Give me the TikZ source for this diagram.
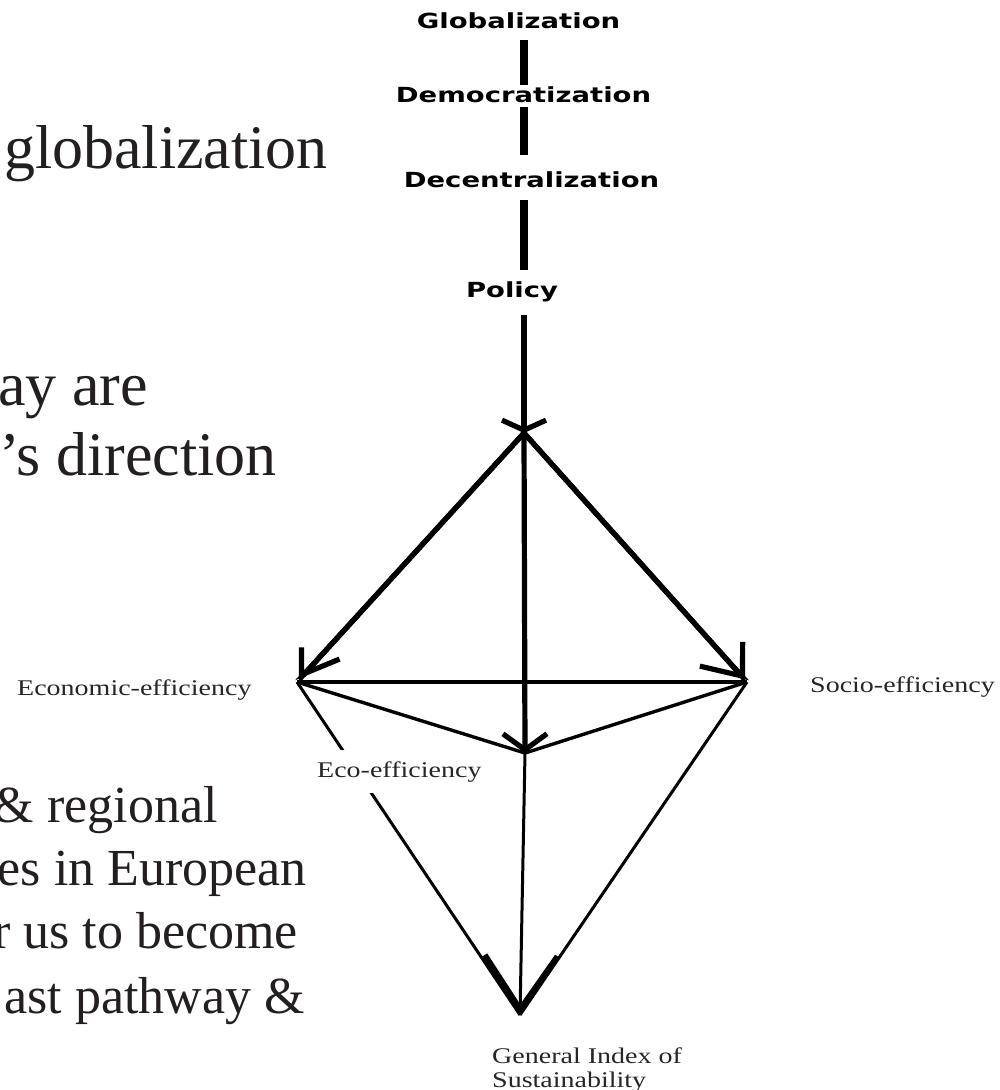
\documentclass[tikz,border=0pt]{standalone}
\usepackage{fontspec}
\setmainfont{Liberation Serif}
\newfontfamily\boldsans{DejaVu Sans}
\usetikzlibrary{arrows.meta}
\definecolor{ink}{HTML}{231F20}
\definecolor{lblgray}{HTML}{262626}
\newcommand{\wideB}[1]{\scalebox{1.32}[1]{#1}}
\newcommand{\wideL}[1]{\scalebox{1.25}[1]{#1}}
\begin{document}
\begin{tikzpicture}[x=1pt,y=-1pt,
  topword/.style={font=\boldsans\bfseries\fontsize{20.8}{21}\selectfont, inner sep=0pt, anchor=base},
  bigtop/.style={font=\fontsize{62}{70}\selectfont, text=ink, inner sep=0pt, anchor=base east},
  bigbot/.style={font=\fontsize{52}{63}\selectfont, text=ink, inner sep=0pt, anchor=base east},
  lbl/.style={font=\fontsize{22.4}{24}\selectfont, text=lblgray, inner sep=0pt, anchor=base west},
  bar/.style={line width=7.5pt},
  heavy/.style={line width=5.2pt},
  light/.style={line width=3.4pt},
  slim/.style={line width=3pt},
]
\fill[white] (0,0) rectangle (999,1090);
\clip (0,0) rectangle (999,1090);

% vertices
\coordinate (A) at (524,433);
\coordinate (L) at (297,682);
\coordinate (R) at (747,682);
\coordinate (C) at (525,753);
\coordinate (B) at (520,1015);

% top chain labels
\node[topword] (glob) at (518.5,28) {\wideB{Globalization}};
\node[topword] (demo) at (523.5,102) {\wideB{Democratization}};
\node[topword] (dec) at (531.5,187) {\wideB{Decentralization}};
\node[topword] (pol) at (512,297) {\wideB{Policy}};

% chain bars
\draw[bar, shorten <=12pt, shorten >=17pt] (A |- glob.base) -- (A |- demo.base);
\draw[bar, shorten <=5pt, shorten >=32pt] (A |- demo.base) -- (A |- dec.base);
\draw[bar, shorten <=13pt, shorten >=27pt] (A |- dec.base) -- (A |- pol.base);
\draw[heavy, shorten <=18pt, -{Straight Barb[length=10pt,width=44pt]}] (A |- pol.base) -- (A);

% from apex
\draw[heavy, -{Straight Barb[length=16pt,width=44pt]}] (A) -- (C);
\draw[heavy, -{Straight Barb[right,length=22pt,width=40pt]}] (A) -- (L);
\draw[heavy, -{Straight Barb[left,length=34pt,width=32pt]}] (A) -- (L);
\draw[heavy, -{Straight Barb[left,length=26pt,width=47pt]}] (A) -- (R);
\draw[heavy, -{Straight Barb[right,length=35pt,width=49pt]}] (A) -- (R);

% middle lines
\draw[light] (L) -- (R);
\draw[light] (L) -- (C);
\draw[light] (R) -- (C);

% to bottom
\draw[slim] (L) -- (B);
\draw[slim] (R) -- (B);
\draw[slim, -{Straight Barb[length=54pt,width=73pt,line width=6pt]}] (C) -- (B);

% labels
\node[lbl] (econ) at (17,695) {\wideL{Economic-efficiency}};
\node[lbl] (socio) at (810,692) {\wideL{Socio-efficiency}};
\node[lbl, fill=white, inner xsep=2pt, inner ysep=11pt] (eco) at (315,777) {\wideL{Eco-efficiency}};
\node[lbl] (gis1) at (492,1063) {\wideL{General Index of}};
\node[lbl] (gis2) at (492,1087) {\wideL{Sustainability}};

% cut-off slide text
\node[bigtop] (t1) at (328,168) {globalization};
\node[bigtop] (t2) at (148,405) {ay are};
\node[bigtop] (t3) at (277,475) {’s direction};
\node[bigbot] (b1) at (218,822) {\& regional};
\node[bigbot] (b2) at (307,885) {es in European};
\node[bigbot] (b3) at (298,948) {r us to become};
\node[bigbot] (b4) at (305,1013) {ast pathway \&};
\end{tikzpicture}
\end{document}
